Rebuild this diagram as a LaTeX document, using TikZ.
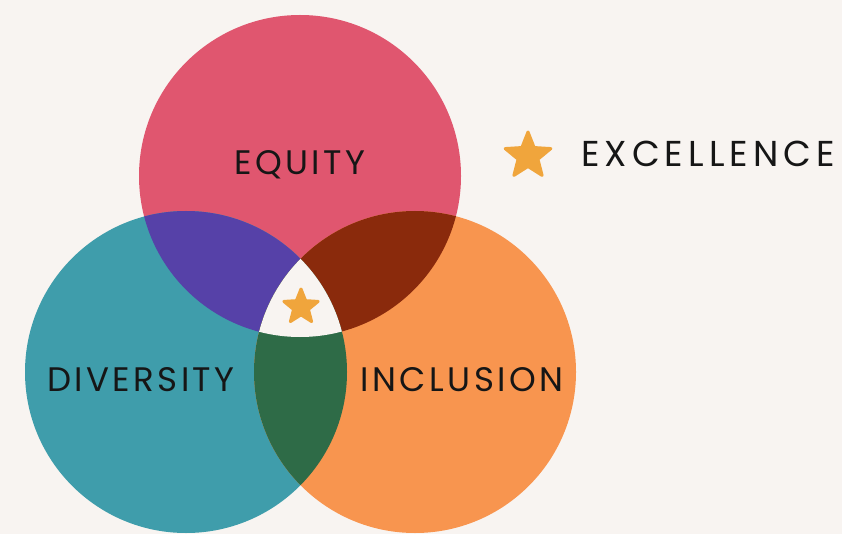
\documentclass[tikz,border=0pt]{standalone}
\usepackage{fontspec}
\newfontfamily\labelfont[LetterSpace=10]{Poppins}
\newfontfamily\legendfont[LetterSpace=14]{Poppins}
\usetikzlibrary{shapes.geometric}
\definecolor{paper}{HTML}{F8F4F1}
\definecolor{equityc}{HTML}{E0566F}
\definecolor{diversityc}{HTML}{3F9DAB}
\definecolor{inclusionc}{HTML}{F8954F}
\definecolor{eqdiv}{HTML}{5641A8}
\definecolor{eqinc}{HTML}{8A2A0C}
\definecolor{divinc}{HTML}{2E6B47}
\definecolor{starc}{HTML}{F0A53C}
\definecolor{ink}{HTML}{161616}
\begin{document}
\begin{tikzpicture}[x=1pt,y=-1pt,
  lbl/.style={font=\labelfont\fontsize{34}{34}\selectfont, text=ink, anchor=base, inner sep=0pt},
  legend/.style={lbl, font=\legendfont\fontsize{36}{36}\selectfont},
  starshape/.style={star, star points=5, star point ratio=2.3, fill=starc, draw=starc,
    line join=round, line width=3pt, inner sep=0pt}]
\fill[paper] (0,0) rectangle (842,534);
\useasboundingbox (0,0) rectangle (842,534);
\coordinate (E) at (300,176);
\coordinate (D) at (186,372);
\coordinate (I) at (415,372);
% the three sets
\fill[equityc] (E) circle[radius=161pt];
\fill[diversityc] (D) circle[radius=161pt];
\fill[inclusionc] (I) circle[radius=161pt];
% pairwise overlaps
\begin{scope}
  \clip (E) circle[radius=161pt];
  \fill[eqdiv] (D) circle[radius=161pt];
  \fill[eqinc] (I) circle[radius=161pt];
\end{scope}
\begin{scope}
  \clip (D) circle[radius=161pt];
  \fill[divinc] (I) circle[radius=161pt];
\end{scope}
% the common centre is left blank
\begin{scope}
  \clip (E) circle[radius=161pt];
  \clip (D) circle[radius=161pt];
  \fill[paper] (I) circle[radius=161pt];
\end{scope}
% stars
\node[starshape, minimum size=36pt] (core) at (301,307) {};
\node[starshape, minimum size=48pt] (mark) at (528,156) {};
% labels
\node[lbl] (equity) at (300,175) {EQUITY};
\node[lbl] (diversity) at (141,391) {DIVERSITY};
\node[lbl] (inclusion) at (462,391) {INCLUSION};
\node[legend] (excellence) at (708,167) {EXCELLENCE};
\end{tikzpicture}
\end{document}
